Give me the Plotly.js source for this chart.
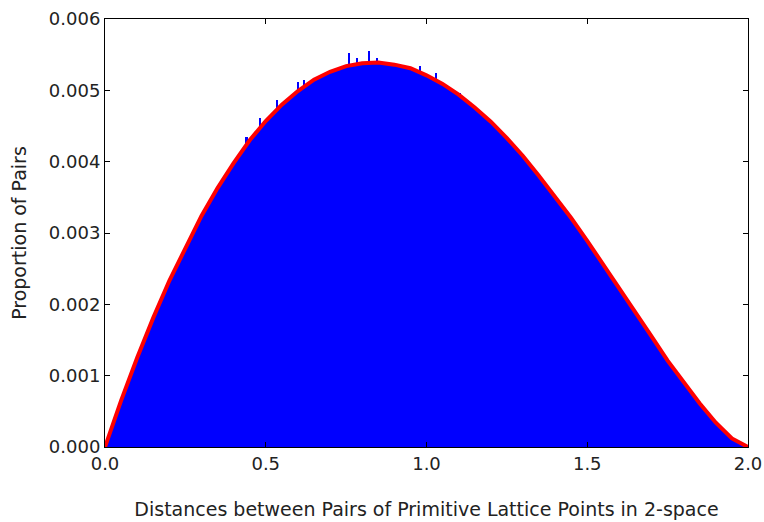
<!DOCTYPE html>
<html>
<head>
<meta charset="utf-8">
<script src="https://cdn.plot.ly/plotly-3.0.1.min.js"></script>
<style>
  body { margin: 0; background: #fff; }
  #plot { width: 764px; height: 522px; }
</style>
</head>
<body>
<div id="plot"></div>
<script>
// distances (bin centres, every 0.05)
var distances = [0.00, 0.05, 0.10, 0.15, 0.20, 0.25, 0.30, 0.35, 0.40, 0.45,
                 0.50, 0.55, 0.60, 0.65, 0.70, 0.75, 0.80, 0.85, 0.90, 0.95,
                 1.00, 1.05, 1.10, 1.15, 1.20, 1.25, 1.30, 1.35, 1.40, 1.45,
                 1.50, 1.55, 1.60, 1.65, 1.70, 1.75, 1.80, 1.85, 1.90, 1.95, 2.00];

// histogram heights (proportion of pairs per bin)
var histProportion = [0.00000, 0.00064, 0.00124, 0.00180, 0.00232, 0.00280, 0.00323, 0.00362, 0.00398, 0.00429,
                      0.00456, 0.00479, 0.00498, 0.00514, 0.00525, 0.00533, 0.00537, 0.00538, 0.00535, 0.00529,
                      0.00520, 0.00508, 0.00493, 0.00475, 0.00454, 0.00431, 0.00406, 0.00379, 0.00350, 0.00319,
                      0.00287, 0.00254, 0.00221, 0.00187, 0.00154, 0.00120, 0.00089, 0.00060, 0.00033, 0.00012, 0.00000];

// fitted curve (red)
var curveProportion = [0.00000, 0.00065, 0.00125, 0.00181, 0.00233, 0.00280, 0.00324, 0.00363, 0.00398, 0.00430,
                       0.00457, 0.00480, 0.00499, 0.00515, 0.00526, 0.00534, 0.00538, 0.00539, 0.00536, 0.00531,
                       0.00521, 0.00509, 0.00494, 0.00476, 0.00456, 0.00433, 0.00408, 0.00380, 0.00351, 0.00321,
                       0.00289, 0.00256, 0.00222, 0.00189, 0.00155, 0.00121, 0.00090, 0.00061, 0.00034, 0.00012, 0.00000];

// a few noisy bins that poke above the curve
var spikeX = [0.44, 0.483, 0.535, 0.60, 0.62, 0.76, 0.785, 0.82, 0.847, 0.98, 1.03, 1.105];
var spikeY = [0.00435, 0.00461, 0.00486, 0.00512, 0.00515, 0.00552, 0.00545, 0.00555, 0.00546, 0.00534, 0.00524, 0.00496];

var histTrace = {
    x: distances,
    y: histProportion,
    type: 'scatter',
    mode: 'lines',
    fill: 'tozeroy',
    fillcolor: '#0000ff',
    line: {color: '#0000ff', width: 1},
    hoverinfo: 'skip'
};
var spikeTrace = {
    x: spikeX,
    y: spikeY,
    type: 'bar',
    width: 0.0067,
    marker: {color: '#0000ff', line: {width: 0}},
    hoverinfo: 'skip'
};
var curveTrace = {
    x: distances,
    y: curveProportion,
    type: 'scatter',
    mode: 'lines',
    line: {color: '#ff0000', width: 4},
    hoverinfo: 'skip'
};

var axisStyle = {
    showline: true,
    linecolor: '#000',
    linewidth: 1,
    mirror: 'ticks',
    ticks: 'inside',
    ticklen: 5,
    tickcolor: '#000',
    showgrid: false,
    zeroline: false,
    tickfont: {family: 'DejaVu Sans', size: 18, color: '#222'}
};

var layout = {
    width: 764,
    height: 522,
    margin: {l: 105, r: 16, t: 19, b: 75},
    paper_bgcolor: '#fff',
    plot_bgcolor: '#fff',
    showlegend: false,
    bargap: 0,
    xaxis: Object.assign({}, axisStyle, {
        range: [0, 2],
        tickvals: [0, 0.5, 1, 1.5, 2],
        tickformat: '.1f',
        title: {text: 'Distances between Pairs of Primitive Lattice Points in 2-space',
                font: {family: 'DejaVu Sans', size: 19, color: '#222'}, standoff: 30}
    }),
    yaxis: Object.assign({}, axisStyle, {
        range: [0, 0.006],
        tickvals: [0, 0.001, 0.002, 0.003, 0.004, 0.005, 0.006],
        tickformat: '.3f',
        title: {text: 'Proportion of Pairs',
                font: {family: 'DejaVu Sans', size: 19, color: '#222'}, standoff: 17}
    })
};

Plotly.newPlot('plot', [histTrace, spikeTrace, curveTrace], layout, {staticPlot: true});
</script>
</body>
</html>
